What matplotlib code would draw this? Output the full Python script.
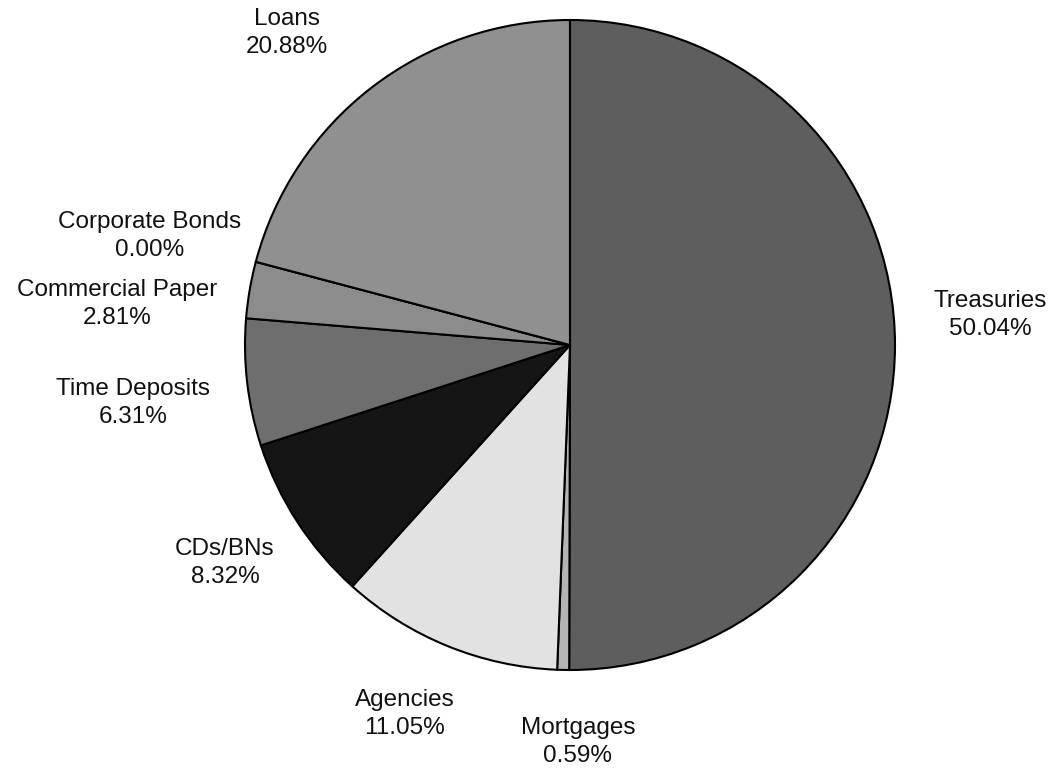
import matplotlib
matplotlib.use("Agg")
import matplotlib.pyplot as plt

categories = ["Treasuries", "Mortgages", "Agencies", "CDs/BNs", "Time Deposits",
              "Commercial Paper", "Corporate Bonds", "Loans"]
values = [50.04, 0.59, 11.05, 8.32, 6.31, 2.81, 0.00, 20.88]
colors = ["#5e5e5e", "#b4b4b4", "#e2e2e2", "#151515", "#6e6e6e",
          "#8c8c8c", "#8c8c8c", "#909090"]
# label centres, in pixels from the top-left corner
label_pos = {
    "Treasuries": (990, 315),
    "Mortgages": (578, 742),
    "Agencies": (405, 714),
    "CDs/BNs": (225, 563),
    "Time Deposits": (133, 403),
    "Commercial Paper": (117, 304),
    "Corporate Bonds": (150, 236),
    "Loans": (287, 33),
}

W, H = 1059, 775
plt.rcParams['font.family'] = ['Liberation Sans', 'DejaVu Sans']
fig = plt.figure(figsize=(W / 100, H / 100), dpi=100)
ax = fig.add_axes([0, 0, 1, 1])

wedges, _ = ax.pie(values, colors=colors, startangle=90, counterclock=False,
                   center=(570, H - 345), radius=325,
                   wedgeprops=dict(edgecolor='black', linewidth=1.5))
ax.set_xlim(0, W)
ax.set_ylim(0, H)
ax.set_aspect('auto')
ax.axis('off')

for cat, v in zip(categories, values):
    x, y = label_pos[cat]
    ax.text(x, H - y, f"{cat}\n{v:.2f}%", ha='center', va='center', fontsize=17.5,
            linespacing=1.38, color='#111111')

fig.savefig("out.png", dpi=100)
